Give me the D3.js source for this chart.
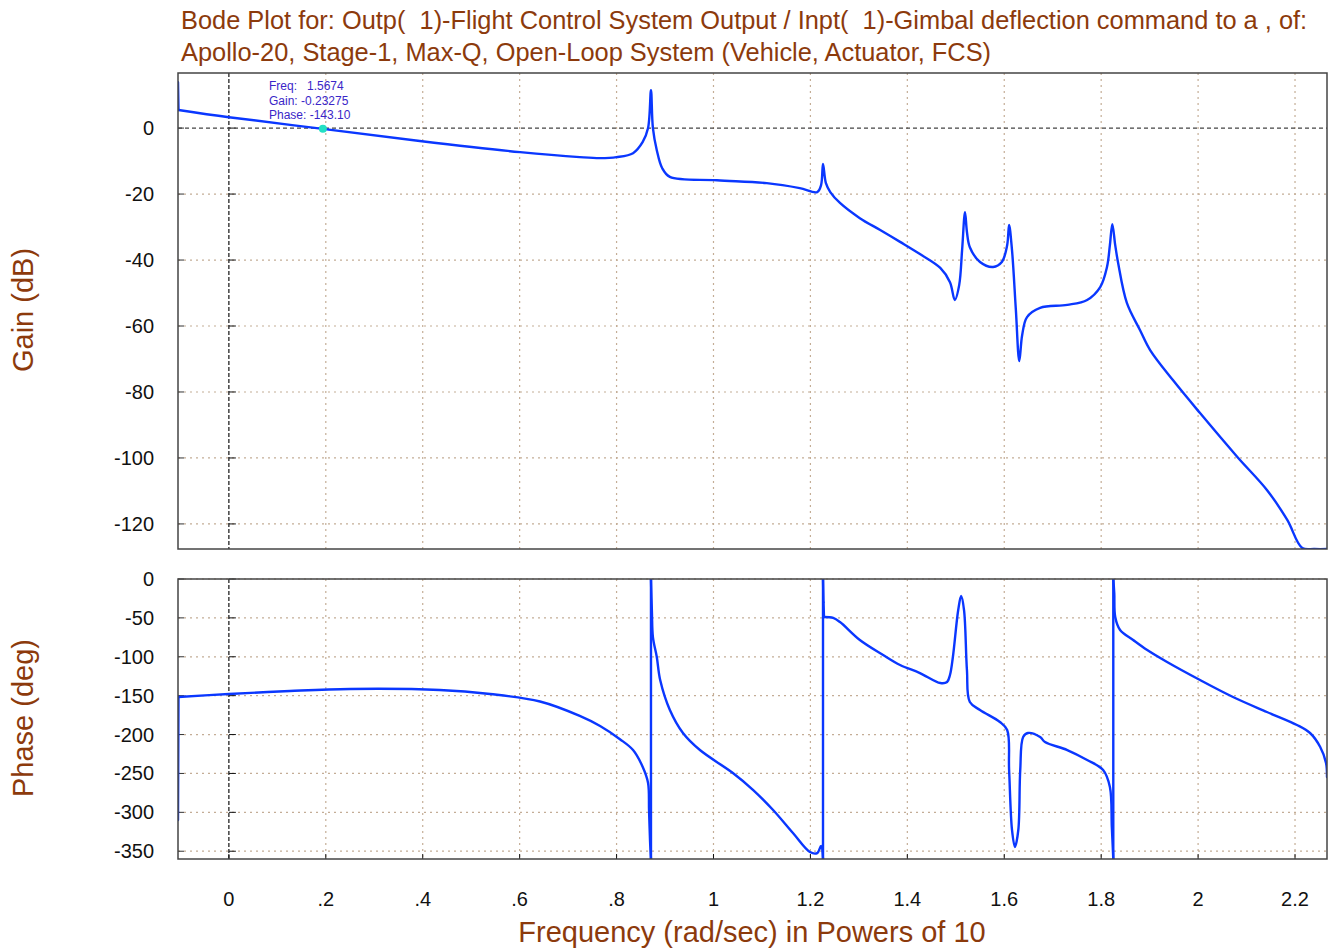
<!DOCTYPE html>
<meta charset="utf-8">
<head>
<style>
body { margin: 0; background: #fff; font-family: "Liberation Sans", Arial, sans-serif; }
.grid line { stroke: #c4ad96; stroke-width: 1.2; stroke-dasharray: 2,4; }
.tick-label { font-size: 20px; fill: #111; }
.brown { fill: #8c3a0c; }
</style>
</head>
<body>
<script src="https://cdnjs.cloudflare.com/ajax/libs/d3/7.8.5/d3.min.js"></script>
<script>

// x values are log10(frequency)
var gainFreq = [-0.105, -0.104, 0, 0.194, 0.394, 0.601, 0.724, 0.766, 0.800, 0.834, 0.854, 0.865, 0.871, 0.875, 0.883, 0.894, 0.910,
  1.007, 1.110, 1.178, 1.214, 1.222, 1.226, 1.232, 1.241, 1.261, 1.302, 1.344, 1.385, 1.426, 1.468, 1.488, 1.498,
  1.507, 1.513, 1.519, 1.523, 1.529, 1.550, 1.577, 1.595, 1.606, 1.610, 1.616, 1.624, 1.631, 1.637, 1.647, 1.674,
  1.730, 1.771, 1.798, 1.812, 1.818, 1.823, 1.829, 1.835, 1.853, 1.880, 1.901, 1.948, 2.004, 2.081, 2.142, 2.184,
  2.215, 2.240, 2.27];
var gainDb = [13.9, 5.5, 3.3, -0.23, -3.9, -7.3, -8.8, -9.1, -8.8, -7.6, -4.2, 0, 11.5, 0, -6.7, -12.1, -14.8,
  -15.8, -16.7, -18.2, -19.4, -17.3, -10.9, -16.7, -19.4, -22.7, -27.3, -30.9, -34.5, -38.2, -42.4, -46.7, -52.1,
  -47.6, -37, -25.5, -31.5, -36.1, -40.6, -42.1, -40.6, -35.5, -29.4, -37, -55.2, -70.6, -62.7, -57.3, -54.5,
  -53.6, -52.1, -48.2, -42.1, -35.5, -29.1, -35.5, -40.9, -53, -61.2, -67.3, -76.4, -86.4, -99.7, -109.7, -118.8,
  -127.3, -135, -145];

var phaseFreq = [-0.105, -0.104, 0, 0.126, 0.25, 0.435, 0.539, 0.642, 0.724, 0.766, 0.807, 0.834, 0.854, 0.865, 0.867, 0.869,
  0.871, 0.871, 0.873, 0.875, 0.883, 0.890, 0.910, 0.937, 0.972, 1.040, 1.082, 1.123, 1.164, 1.199, 1.214, 1.222,
  1.226, 1.226, 1.227, 1.228, 1.247, 1.261, 1.302, 1.350, 1.385, 1.426, 1.468, 1.482, 1.488, 1.494, 1.505, 1.511,
  1.517, 1.523, 1.529, 1.550, 1.591, 1.606, 1.610, 1.616, 1.622, 1.629, 1.633, 1.639, 1.649, 1.674, 1.684, 1.730,
  1.771, 1.804, 1.818, 1.822, 1.825, 1.825, 1.827, 1.829, 1.839, 1.866, 1.895, 1.936, 2.004, 2.072, 2.142, 2.204,
  2.231, 2.252, 2.264, 2.266];
var phaseDeg = [-310, -151.7, -147.9, -144, -141.4, -142.7, -147.9, -157.5, -176, -189, -206, -219.9, -241.7, -262.3, -297, -335.6,
  -360, 0, -43.7, -74.6, -100.3, -129.9, -168.4, -198, -219.9, -249.4, -271.3, -297, -326.6, -351, -352.4, -343.3,
  -360, 0, -30, -48.9, -50.1, -55.3, -78.4, -97.7, -110.6, -120.9, -133.7, -132.4, -123.4, -100.3, -39.9, -21.9,
  -39.9, -117, -158.1, -168.4, -183.9, -194.1, -245.6, -322.7, -344.6, -322.7, -245.6, -203.1, -198, -203.1, -209.6, -219.9,
  -232.7, -245.6, -267.4, -318.9, -360, 0, -18, -48.9, -65.6, -78.4, -91.3, -106.7, -129.9, -151.7, -171, -187.7,
  -198, -216, -236.6, -254.6];

var xTicks = [0, 0.2, 0.4, 0.6, 0.8, 1, 1.2, 1.4, 1.6, 1.8, 2, 2.2];
var gainTicks = [0, -20, -40, -60, -80, -100, -120];
var phaseTicks = [0, -50, -100, -150, -200, -250, -300, -350];

var cursor = { freq: 0.194, gain: -0.23, lines: ["Freq:   1.5674", "Gain: -0.23275", "Phase: -143.10"] };

var W = 1328, H = 948;
var left = 178, right = 1327;
var gainTop = 73, gainBottom = 549, phaseTop = 579, phaseBottom = 859;

var svg = d3.select("body").append("svg").attr("width", W).attr("height", H);

var x = d3.scaleLinear().domain([-0.105, 2.266]).range([left, right]);
var yGain = d3.scaleLinear().domain([16.7, -127.6]).range([gainTop, gainBottom]);
var yPhase = d3.scaleLinear().domain([0, -360]).range([phaseTop, phaseBottom]);

var fmtX = function(d) { return d === 0 ? "0" : (d % 1 === 0 ? String(d) : String(d).replace(/^0/, "")); };

function panel(yScale, ticks, top, bottom, id) {
  var g = svg.append("g");
  g.append("clipPath").attr("id", id).append("rect")
    .attr("x", left).attr("y", top).attr("width", right - left).attr("height", bottom - top);

  // grid
  var grid = g.append("g").attr("class", "grid");
  grid.selectAll(".v").data(xTicks.filter(function(d) { return d !== 0; })).enter().append("line")
    .attr("x1", function(d) { return x(d); }).attr("x2", function(d) { return x(d); })
    .attr("y1", top).attr("y2", bottom);
  grid.selectAll(".h").data(ticks.filter(function(d) { return d !== 0 || id === "clipP"; })).enter().append("line")
    .attr("x1", left).attr("x2", right)
    .attr("y1", function(d) { return yScale(d); }).attr("y2", function(d) { return yScale(d); });

  // dashed line at frequency 10^0
  g.append("line").attr("x1", x(0)).attr("x2", x(0)).attr("y1", top).attr("y2", bottom)
    .attr("stroke", "#111").attr("stroke-width", 1.2).attr("stroke-dasharray", "4,2");

  // small ticks on the inner left edge and on the x=0 line
  g.selectAll(".lt").data(ticks).enter().append("line")
    .attr("x1", left).attr("x2", left + 6)
    .attr("y1", function(d) { return yScale(d); }).attr("y2", function(d) { return yScale(d); })
    .attr("stroke", "#333");
  g.selectAll(".zt").data(ticks).enter().append("line")
    .attr("x1", x(0)).attr("x2", x(0) + 7)
    .attr("y1", function(d) { return yScale(d); }).attr("y2", function(d) { return yScale(d); })
    .attr("stroke", "#111");

  // y labels
  g.selectAll(".yl").data(ticks).enter().append("text")
    .attr("class", "tick-label")
    .attr("x", 154).attr("y", function(d) { return yScale(d) + 7; })
    .attr("text-anchor", "end")
    .text(function(d) { return d; });
  return g;
}

var gp = panel(yGain, gainTicks, gainTop, gainBottom, "clipG");
var pp = panel(yPhase, phaseTicks, phaseTop, phaseBottom, "clipP");

// 0 dB reference line
gp.append("line").attr("x1", left).attr("x2", right).attr("y1", yGain(0)).attr("y2", yGain(0))
  .attr("stroke", "#444").attr("stroke-width", 1.3).attr("stroke-dasharray", "4,3");

// bottom ticks on phase panel
pp.selectAll(".bt").data(xTicks).enter().append("line")
  .attr("x1", function(d) { return x(d); }).attr("x2", function(d) { return x(d); })
  .attr("y1", phaseBottom - 5).attr("y2", phaseBottom).attr("stroke", "#111");

// curves: smooth pieces between the vertical jumps, jumps drawn straight
var blue = "#0a37ff";
function drawCurve(g, xs, ys, yScale, clipId) {
  var pts = d3.zip(xs, ys);
  var pieces = [[pts[0]]], jumps = [];
  for (var i = 1; i < pts.length; i++) {
    if (pts[i][0] - pts[i - 1][0] < 0.0015) {
      jumps.push([pts[i - 1], pts[i]]);
      pieces.push([pts[i]]);
    } else {
      pieces[pieces.length - 1].push(pts[i]);
    }
  }
  var smooth = d3.line().curve(d3.curveCatmullRom.alpha(0.5))
    .x(function(d) { return x(d[0]); })
    .y(function(d) { return yScale(d[1]); });
  var straight = d3.line()
    .x(function(d) { return x(d[0]); })
    .y(function(d) { return yScale(d[1]); });
  var c = g.append("g").attr("clip-path", "url(#" + clipId + ")")
    .attr("fill", "none").attr("stroke", blue).attr("stroke-width", 2.4)
    .attr("stroke-linejoin", "round").attr("stroke-linecap", "round");
  c.selectAll(".piece").data(pieces.filter(function(p) { return p.length > 1; })).enter()
    .append("path").attr("d", smooth);
  c.selectAll(".jump").data(jumps).enter().append("path").attr("d", straight);
}
drawCurve(gp, gainFreq, gainDb.map(function(d) { return Math.max(d, -127.6); }), yGain, "clipG");
drawCurve(pp, phaseFreq, phaseDeg, yPhase, "clipP");

// frames
[[gainTop, gainBottom], [phaseTop, phaseBottom]].forEach(function(p) {
  svg.append("rect").attr("x", left).attr("y", p[0]).attr("width", right - left).attr("height", p[1] - p[0])
    .attr("fill", "none").attr("stroke", "#444").attr("stroke-width", 1.5);
});

// cursor readout
svg.append("circle").attr("cx", x(cursor.freq)).attr("cy", yGain(cursor.gain)).attr("r", 4).attr("fill", "#22e0c4");
svg.selectAll(".cur").data(cursor.lines).enter().append("text")
  .attr("x", 269).attr("y", function(d, i) { return 90 + i * 14.5; })
  .attr("font-size", 12).attr("fill", "#3a26c8")
  .style("white-space", "pre")
  .text(function(d) { return d; });

// x tick labels
svg.selectAll(".xl").data(xTicks).enter().append("text")
  .attr("class", "tick-label")
  .attr("x", function(d) { return x(d); }).attr("y", 906)
  .attr("text-anchor", "middle")
  .text(fmtX);

// titles
svg.append("text").attr("class", "brown").attr("x", 181).attr("y", 29).attr("font-size", 25.4)
  .style("white-space", "pre")
  .text("Bode Plot for: Outp(  1)-Flight Control System Output / Inpt(  1)-Gimbal deflection command to a , of:");
svg.append("text").attr("class", "brown").attr("x", 181).attr("y", 61).attr("font-size", 25.4)
  .text("Apollo-20, Stage-1, Max-Q, Open-Loop System (Vehicle, Actuator, FCS)");

svg.append("text").attr("class", "brown").attr("font-size", 29).attr("text-anchor", "middle")
  .attr("transform", "translate(33,310) rotate(-90)").text("Gain (dB)");
svg.append("text").attr("class", "brown").attr("font-size", 29).attr("text-anchor", "middle")
  .attr("transform", "translate(33,718) rotate(-90)").text("Phase (deg)");
svg.append("text").attr("class", "brown").attr("font-size", 29).attr("text-anchor", "middle")
  .attr("x", 752).attr("y", 942).text("Frequency (rad/sec) in Powers of 10");

</script>
</body>
